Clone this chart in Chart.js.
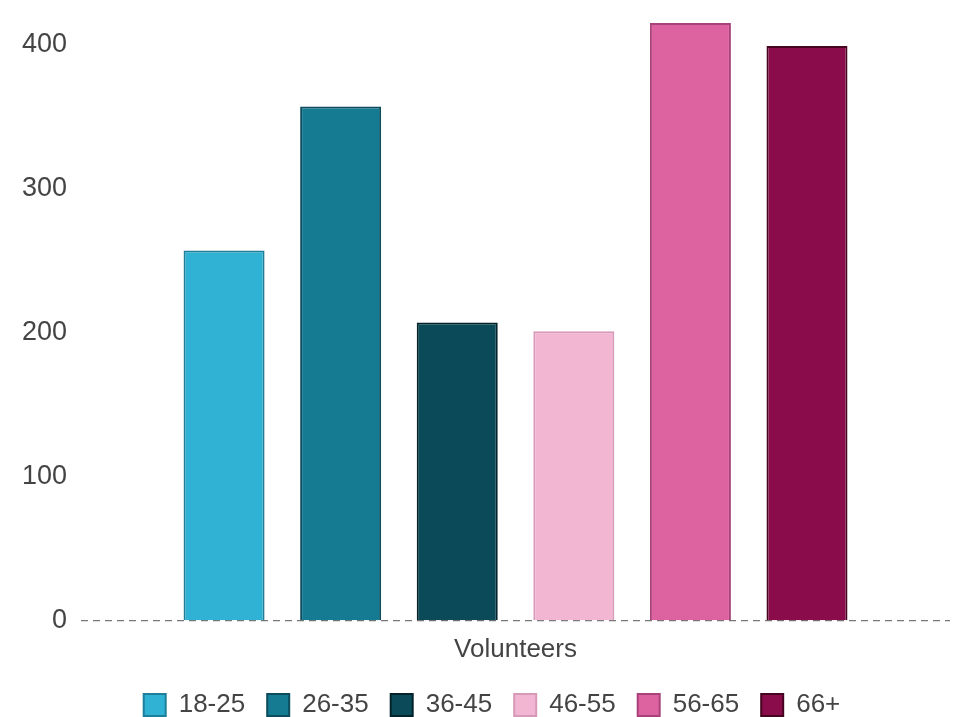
<!DOCTYPE html>
<html lang="en">
<head>
    <meta charset="UTF-8">
    <title>Volunteers by age group</title>
    <script src="https://cdn.jsdelivr.net/npm/chart.js"></script>
    <style>
        body {
            margin: 0;
            padding: 0;
            background: #fff;
            overflow: hidden;
        }
        #chart-container {
            width: 962px;
            height: 717px;
        }
    </style>
</head>
<body>
    <div id="chart-container">
        <canvas id="myChart"></canvas>
    </div>
    <script>
        // chart data
        const categories = ['Volunteers'];
        const ageGroups = ['18-25', '26-35', '36-45', '46-55', '56-65', '66+'];
        const volunteers = [257, 357, 207, 201, 415, 399];
        const yTicks = [0, 100, 200, 300, 400];

        const fillColors = ['#30b2d4', '#157b92', '#0b4b59', '#f2b6d2', '#dc62a0', '#8b0c4b'];
        const lineColors = ['#1d7f9a', '#0c4c5c', '#03232b', '#d69ab8', '#a9417a', '#45041f'];

        const datasets = ageGroups.map((name, i) => ({
            label: name,
            data: [volunteers[i]],
            backgroundColor: fillColors[i],
            borderColor: lineColors[i],
            borderWidth: 2,
            clip: false
        }));

        // nudge the legend a little to the right, like the original
        const legendShift = {
            id: 'legendShift',
            afterLayout(chart) {
                if (chart.legend) {
                    chart.legend.left += 13;
                    chart.legend.right += 13;
                }
            }
        };

        const ctx = document.getElementById('myChart').getContext('2d');
        new Chart(ctx, {
            type: 'bar',
            data: {
                labels: categories,
                datasets: datasets
            },
            plugins: [legendShift],
            options: {
                responsive: true,
                maintainAspectRatio: false,
                animation: false,
                categoryPercentage: 0.805,
                barPercentage: 0.695,
                layout: {
                    padding: { left: 8, right: 12, top: 0, bottom: -11 }
                },
                scales: {
                    x: {
                        grid: { display: false },
                        border: { display: false },
                        ticks: {
                            color: '#444',
                            padding: 5,
                            font: { family: 'Arial, "Liberation Sans"', size: 26 }
                        }
                    },
                    y: {
                        min: 0,
                        max: 410,
                        afterBuildTicks: axis => {
                            axis.ticks = yTicks.map(v => ({ value: v }));
                        },
                        border: { display: false, dash: [7, 5] },
                        grid: {
                            drawTicks: false,
                            lineWidth: 1.2,
                            color: c => c.tick && c.tick.value === 0 ? '#777' : 'rgba(0,0,0,0)'
                        },
                        ticks: {
                            color: '#444',
                            padding: 14,
                            font: { family: 'Arial, "Liberation Sans"', size: 27 }
                        }
                    }
                },
                plugins: {
                    legend: {
                        display: true,
                        position: 'bottom',
                        labels: {
                            color: '#444',
                            boxWidth: 22,
                            boxHeight: 22,
                            padding: 22,
                            font: { family: 'Arial, "Liberation Sans"', size: 26 }
                        }
                    },
                    tooltip: { enabled: false }
                }
            }
        });
    </script>
</body>
</html>
